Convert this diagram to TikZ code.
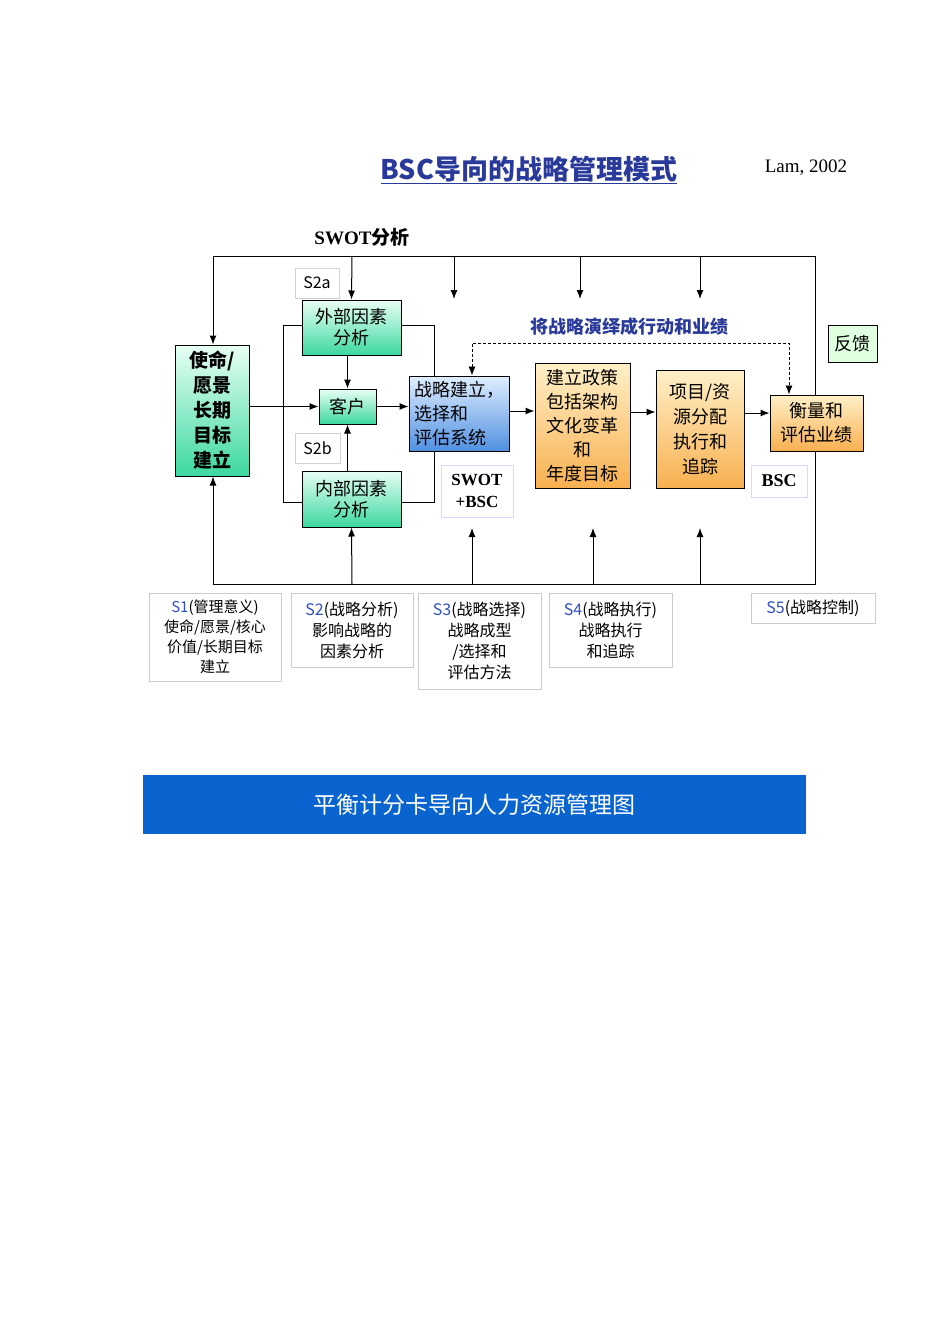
\documentclass[tikz,border=0pt]{standalone}
\usepackage{fontspec}
\setmainfont{Liberation Serif}
\newfontfamily\cjk{Noto Sans CJK SC}
\usetikzlibrary{arrows.meta,backgrounds}
\definecolor{gtop}{HTML}{E8FFF4}
\definecolor{gbot}{HTML}{3CD8A0}
\definecolor{otop}{HTML}{FFF0C8}
\definecolor{obot}{HTML}{F8B050}
\definecolor{btop}{HTML}{E0EEFF}
\definecolor{bbot}{HTML}{5090E0}
\definecolor{ttl}{HTML}{2A3A9A}
\definecolor{banner}{HTML}{0A64D0}
\definecolor{lblue}{HTML}{3050C0}
\begin{document}
\begin{tikzpicture}[x=1pt,y=-1pt,
 ln/.style={line width=1pt,black},
 ar/.style={ln,-{Latex[length=9pt,width=7pt]}},
 gbox/.style={draw,line width=1pt,top color=gtop,bottom color=gbot,font=\cjk\fontsize{18}{21}\selectfont,align=center,inner sep=0pt},
 obox/.style={draw,line width=1pt,top color=otop,bottom color=obot,font=\cjk\fontsize{18}{24}\selectfont,align=center,inner sep=0pt},
 lbl/.style={draw=gray!35,line width=0.8pt,fill=white,inner sep=0pt,align=center},
 sbox/.style={draw=gray!40,line width=0.8pt,inner sep=0pt,align=center,font=\cjk\fontsize{16}{21}\selectfont},
]
\useasboundingbox (0,0) rectangle (950,1344);
% title
\node[font=\cjk\bfseries\fontsize{27}{30}\selectfont,text=ttl] (title) at (529,170) {\underline{BSC导向的战略管理模式}};
\node[font=\fontsize{19}{22}\selectfont] (lam) at (806,168) {Lam, 2002};
\node[font=\bfseries\fontsize{19}{22}\selectfont] (swot) at (362,237) {SWOT\cjk 分析};
% boxes
\node[gbox,minimum width=74pt,minimum height=131pt,font=\cjk\bfseries\fontsize{19}{25}\selectfont] (mis) at (212,410.5) {使命/\\愿景\\长期\\目标\\建立};
\node[gbox,minimum width=99pt,minimum height=55pt] (ext) at (351.5,327.5) {外部因素\\分析};
\node[gbox,minimum width=57pt,minimum height=35pt] (cus) at (347.5,406.5) {客户};
\node[gbox,minimum width=99pt,minimum height=56pt] (int) at (351.5,499) {内部因素\\分析};
\node[lbl,minimum width=44pt,minimum height=30pt,font=\cjk\fontsize{16}{18}\selectfont] (s2a) at (317,283) {S2a};
\node[lbl,minimum width=45pt,minimum height=30pt,font=\cjk\fontsize{16}{18}\selectfont] (s2b) at (317.5,448) {S2b};
\node[draw,line width=1pt,top color=btop,bottom color=bbot,minimum width=100pt,minimum height=75pt,inner sep=0pt,align=left,font=\cjk\fontsize{18}{24}\selectfont] (str) at (459,413.5) {战略建立，\\选择和\\评估系统};
\node[lbl,draw=blue!15,minimum width=72pt,minimum height=52pt,font=\bfseries\fontsize{17}{22}\selectfont] (sb) at (477,491) {SWOT\\+BSC};
\node[obox,minimum width=95pt,minimum height=125pt] (o1) at (582.5,425.5) {建立政策\\包括架构\\文化变革\\和\\年度目标};
\node[obox,minimum width=88pt,minimum height=118pt,font=\cjk\fontsize{18}{25}\selectfont] (o2) at (700,429) {项目/资\\源分配\\执行和\\追踪};
\node[obox,minimum width=93pt,minimum height=56pt] (mea) at (816.5,423) {衡量和\\评估业绩};
\node[lbl,draw=blue!15,minimum width=56pt,minimum height=32pt,font=\bfseries\fontsize{18}{22}\selectfont] (bsc) at (779,481) {BSC};
\node[draw,line width=1pt,fill=green!12,minimum width=49pt,minimum height=37pt,inner sep=0pt,font=\cjk\fontsize{18}{22}\selectfont] (fk) at (852.5,343.5) {反馈};
\node[font=\cjk\bfseries\fontsize{18}{22}\selectfont,text=ttl] (act) at (629,327) {将战略演绎成行动和业绩};
% loop
\coordinate (tl) at (213,256); \coordinate (tr) at (815,256);
\coordinate (bl) at (213,584); \coordinate (br) at (815,584);
\begin{scope}[on background layer]
\fill[white] (0,0) rectangle (950,1344);
\draw[ln] (tl) -- (tr) -- (br) -- (bl);
\end{scope}
\draw[ar] (tl) -- (mis.north -| tl);
\draw[ar] (bl) -- (mis.south -| bl);
\draw[ar] (352,256) -- (ext.north);
\foreach \x in {454,580,700} \draw[ar] (\x,256) -- (\x,299);
\draw[ar] (352,584) -- (int.south);
\foreach \x in {472,593,700} \draw[ar] (\x,584) -- (\x,528);
% internal
\draw[ar] (mis.east |- cus) -- (cus.west);
\draw[ar] (ext.south -| cus) -- (cus.north);
\draw[ar] (int.north -| cus) -- (cus.south);
\draw[ar] (cus.east) -- (str.west |- cus);
\draw[ln] (ext.west |- 0,325) -- (283,325) -- (283,502) -- (int.west |- 0,502);
\draw[ln] (ext.east |- 0,325) -- (434,325) -- (str.north -| 434,0);
\draw[ln] (int.east |- 0,502) -- (434,502) -- (str.south -| 434,0);
\draw[ar] (str.east |- 0,411) -- (o1.west |- 0,411);
\draw[ar] (o1.east |- 0,412) -- (o2.west |- 0,412);
\draw[ar] (o2.east |- 0,413) -- (mea.west |- 0,413);
\draw[ln,densely dashed,line width=0.8pt,{Latex[length=9pt,width=7pt]}-{Latex[length=9pt,width=7pt]}] (str.north -| 472,0) -- (472,343) -- (789,343) -- (mea.north -| 789,0);
% bottom boxes
\node[sbox,minimum width=132pt,minimum height=88pt,font=\cjk\fontsize{15}{20}\selectfont] (b1) at (215,637) {\textcolor{lblue}{S1}(管理意义)\\使命/愿景/核心\\价值/长期目标\\建立};
\node[sbox,minimum width=122pt,minimum height=74pt] (b2) at (352,630) {\textcolor{lblue}{S2}(战略分析)\\影响战略的\\因素分析};
\node[sbox,minimum width=123pt,minimum height=96pt] (b3) at (479.5,641) {\textcolor{lblue}{S3}(战略选择)\\战略成型\\/选择和\\评估方法};
\node[sbox,minimum width=123pt,minimum height=74pt] (b4) at (610.5,630) {\textcolor{lblue}{S4}(战略执行)\\战略执行\\和追踪};
\node[sbox,minimum width=124pt,minimum height=30pt] (b5) at (813,608) {\textcolor{lblue}{S5}(战略控制)};
% banner
\node[fill=banner,minimum width=663pt,minimum height=59pt,inner sep=0pt,text=white,font=\cjk\fontsize{23}{26}\selectfont] (ban) at (474.5,804.5) {平衡计分卡导向人力资源管理图};
\end{tikzpicture}
\end{document}
